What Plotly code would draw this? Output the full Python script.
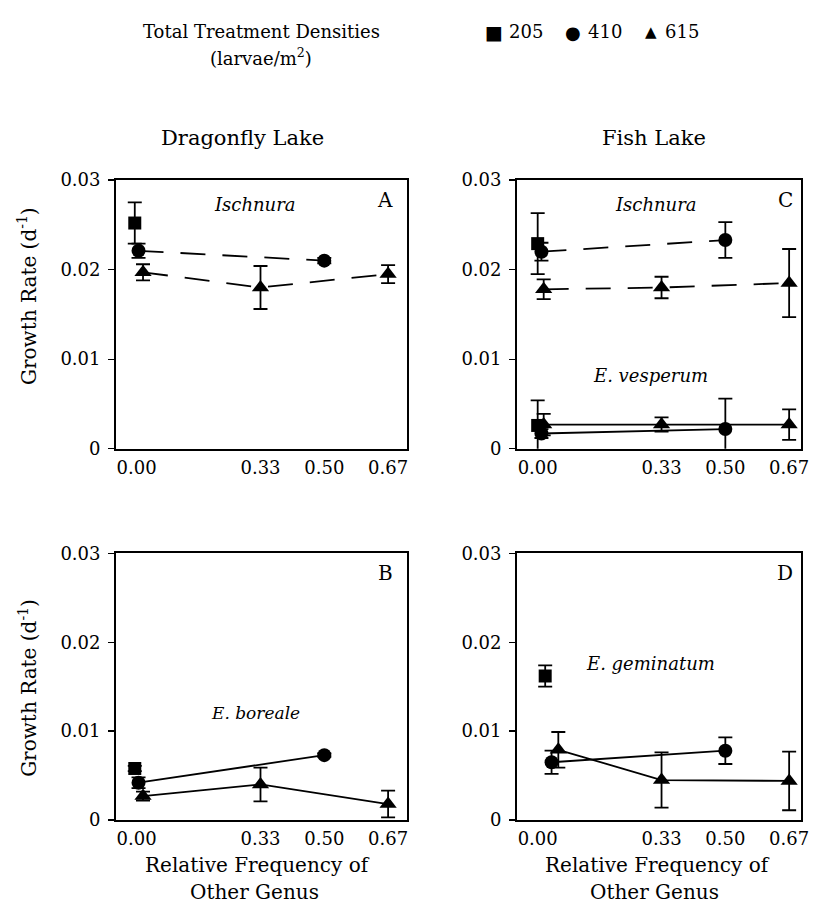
import plotly.graph_objects as go

# ---------------- data ----------------
tick_vals = [0.0, 0.33, 0.50, 0.67]
tick_text = ["0.00", "0.33", "0.50", "0.67"]
y_tick_vals = [0.0, 0.01, 0.02, 0.03]
y_tick_text = ["0", "0.01", "0.02", "0.03"]
densities = ["205", "410", "615"]

# Panel A - Dragonfly Lake, Ischnura
A_sq_x = [-0.005]
A_sq_y = [0.0252]
A_sq_e = [0.0023]
A_ci_x = [0.005, 0.50]
A_ci_y = [0.0221, 0.0210]
A_ci_e = [0.0008, 0.0003]
A_tr_x = [0.017, 0.33, 0.67]
A_tr_y = [0.0197, 0.0180, 0.0195]
A_tr_e = [0.0009, 0.0024, 0.0010]

# Panel B - Dragonfly Lake, E. boreale
B_sq_x = [-0.005]
B_sq_y = [0.0058]
B_sq_e = [0.0003]
B_ci_x = [0.005, 0.50]
B_ci_y = [0.0042, 0.0073]
B_ci_e = [0.0006, 0.0002]
B_tr_x = [0.017, 0.33, 0.67]
B_tr_y = [0.0027, 0.0040, 0.0018]
B_tr_e = [0.0005, 0.0019, 0.0015]

# Panel C - Fish Lake, Ischnura
C_sq_x = [0.0]
C_sq_y = [0.0229]
C_sq_e = [0.0034]
C_ci_x = [0.010, 0.50]
C_ci_y = [0.0220, 0.0233]
C_ci_e = [0.0010, 0.0020]
C_tr_x = [0.016, 0.33, 0.67]
C_tr_y = [0.0178, 0.0180, 0.0185]
C_tr_e = [0.0011, 0.0012, 0.0038]

# Panel C - Fish Lake, E. vesperum
Cv_sq_x = [0.0]
Cv_sq_y = [0.0026]
Cv_sq_e = [0.0028]
Cv_ci_x = [0.010, 0.50]
Cv_ci_y = [0.0017, 0.0022]
Cv_ci_e = [0.0005, 0.0034]
Cv_tr_x = [0.016, 0.33, 0.67]
Cv_tr_y = [0.0027, 0.0027, 0.0027]
Cv_tr_e = [0.0012, 0.0008, 0.0017]

# Panel D - Fish Lake, E. geminatum
D_sq_x = [0.020]
D_sq_y = [0.0162]
D_sq_e = [0.0012]
D_ci_x = [0.037, 0.50]
D_ci_y = [0.0065, 0.0078]
D_ci_e = [0.0013, 0.0015]
D_tr_x = [0.055, 0.33, 0.67]
D_tr_y = [0.0079, 0.0045, 0.0044]
D_tr_e = [0.0020, 0.0031, 0.0033]

# ---------------- styling ----------------
W, H = 817, 917
FONT = "DejaVu Serif"
BLACK = "black"


def px(x):
    return x / W


def py(y):
    return 1 - y / H


fig = go.Figure()


def add(xs, ys, es, symbol, size, xa, ya, line=None):
    mode = "markers" if line is None else "lines+markers"
    fig.add_trace(go.Scatter(
        x=xs, y=ys, mode=mode, xaxis=xa, yaxis=ya, showlegend=False,
        marker=dict(symbol=symbol, size=size, color=BLACK),
        line=dict(color=BLACK, width=1.8, dash=line if line else "solid"),
        error_y=dict(type="data", array=es, visible=True, color=BLACK,
                     thickness=1.8, width=7),
        cliponaxis=False, hoverinfo="skip",
    ))


DASH = "25px,17px"
SQ, CI, TR = 13, 14, 15

# A
add(A_sq_x, A_sq_y, A_sq_e, "square", SQ, "x", "y")
add(A_ci_x, A_ci_y, A_ci_e, "circle", CI, "x", "y", DASH)
add(A_tr_x, A_tr_y, A_tr_e, "triangle-up", TR, "x", "y", DASH)
# B
add(B_sq_x, B_sq_y, B_sq_e, "square", SQ, "x2", "y2")
add(B_ci_x, B_ci_y, B_ci_e, "circle", CI, "x2", "y2", "solid")
add(B_tr_x, B_tr_y, B_tr_e, "triangle-up", TR, "x2", "y2", "solid")
# C Ischnura
add(C_sq_x, C_sq_y, C_sq_e, "square", SQ, "x3", "y3")
add(C_ci_x, C_ci_y, C_ci_e, "circle", CI, "x3", "y3", DASH)
add(C_tr_x, C_tr_y, C_tr_e, "triangle-up", TR, "x3", "y3", DASH)
# C E. vesperum
add(Cv_sq_x, Cv_sq_y, Cv_sq_e, "square", SQ, "x3", "y3")
add(Cv_ci_x, Cv_ci_y, Cv_ci_e, "circle", CI, "x3", "y3", "solid")
add(Cv_tr_x, Cv_tr_y, Cv_tr_e, "triangle-up", TR, "x3", "y3", "solid")
# D
add(D_sq_x, D_sq_y, D_sq_e, "square", SQ, "x4", "y4")
add(D_ci_x, D_ci_y, D_ci_e, "circle", CI, "x4", "y4", "solid")
add(D_tr_x, D_tr_y, D_tr_e, "triangle-up", TR, "x4", "y4", "solid")

LEFT_DOM = [px(117), px(411)]
RIGHT_DOM = [px(522), px(809)]
TOP_DOM = [py(448), py(173)]
BOT_DOM = [py(828), py(555)]
X_RANGE_L = [-0.0554, 0.7203]
X_RANGE_R = [-0.0554, 0.7018]


def xax(dom, rng, anchor):
    return dict(domain=dom, range=rng, anchor=anchor, tickvals=tick_vals,
                ticktext=tick_text, ticks="", showline=True, mirror=True,
                linecolor=BLACK, linewidth=1.8, showgrid=False, zeroline=False,
                tickfont=dict(family=FONT, size=18, color=BLACK),
                ticklabelstandoff=2, fixedrange=True)


def yax(dom, anchor):
    return dict(domain=dom, range=[0, 0.03], anchor=anchor,
                tickvals=y_tick_vals, ticktext=y_tick_text, ticks="outside",
                ticklen=6, tickwidth=1.3, tickcolor=BLACK, showline=True,
                mirror=True, linecolor=BLACK, linewidth=1.8, showgrid=False,
                zeroline=False, tickfont=dict(family=FONT, size=18, color=BLACK),
                ticklabelstandoff=4, fixedrange=True)


layout = dict(
    width=W, height=H, margin=dict(l=0, r=0, t=0, b=0),
    paper_bgcolor="white", plot_bgcolor="white",
    font=dict(family=FONT, color=BLACK),
    hovermode=False,
    xaxis=xax(LEFT_DOM, X_RANGE_L, "y"), yaxis=yax(TOP_DOM, "x"),
    xaxis2=xax(LEFT_DOM, X_RANGE_L, "y2"), yaxis2=yax(BOT_DOM, "x2"),
    xaxis3=xax(RIGHT_DOM, X_RANGE_R, "y3"), yaxis3=yax(TOP_DOM, "x3"),
    xaxis4=xax(RIGHT_DOM, X_RANGE_R, "y4"), yaxis4=yax(BOT_DOM, "x4"),
)
fig.update_layout(**layout)

ann = []


def text(x, y, s, size=19, angle=0, anchor="center", family=FONT):
    ann.append(dict(x=px(x), y=py(y), xref="paper", yref="paper", text=s,
                    showarrow=False, xanchor=anchor, yanchor="middle",
                    textangle=angle,
                    font=dict(family=family, size=size, color=BLACK)))


# header / legend
text(264, 21, "Total Treatment Densities", 18)
text(264, 47, "(larvae/m<sup>2</sup>)", 18)
text(499, 22, "■", 19, family="DejaVu Sans")
text(512, 21, densities[0], 18, anchor="left")
text(579, 22, "●", 18, family="DejaVu Sans")
text(592, 21, densities[1], 18, anchor="left")
text(657, 21, "▲", 15, family="DejaVu Sans")
text(670, 21, densities[2], 18, anchor="left")

# column titles
text(245, 130, "Dragonfly Lake", 21)
text(660, 130, "Fish Lake", 21)

# panel letters
text(389, 193, "A", 20)
text(793, 193, "C", 20)
text(389, 575, "B", 20)
text(793, 575, "D", 20)

# species labels
text(258, 198, "<i>Ischnura</i>", 18)
text(662, 198, "<i>Ischnura</i>", 18)
text(657, 373, "<i>E. vesperum</i>", 18)
text(258, 718, "<i>E. boreale</i>", 17)
text(657, 668, "<i>E. geminatum</i>", 18)

# y titles
text(28, 292, "Growth Rate (d<sup>-1</sup>)", 20, angle=-90)
text(28, 693, "Growth Rate (d<sup>-1</sup>)", 20, angle=-90)

# x titles
text(260, 874, "Relative Frequency of", 20)
text(257, 902, "Other Genus", 20)
text(664, 874, "Relative Frequency of", 20)
text(661, 902, "Other Genus", 20)

fig.update_layout(annotations=ann)
fig.write_html("out.html",
               config={"displayModeBar": False, "staticPlot": True},
               post_script="document.body.style.margin='0';"
                           "document.body.style.padding='0';")
